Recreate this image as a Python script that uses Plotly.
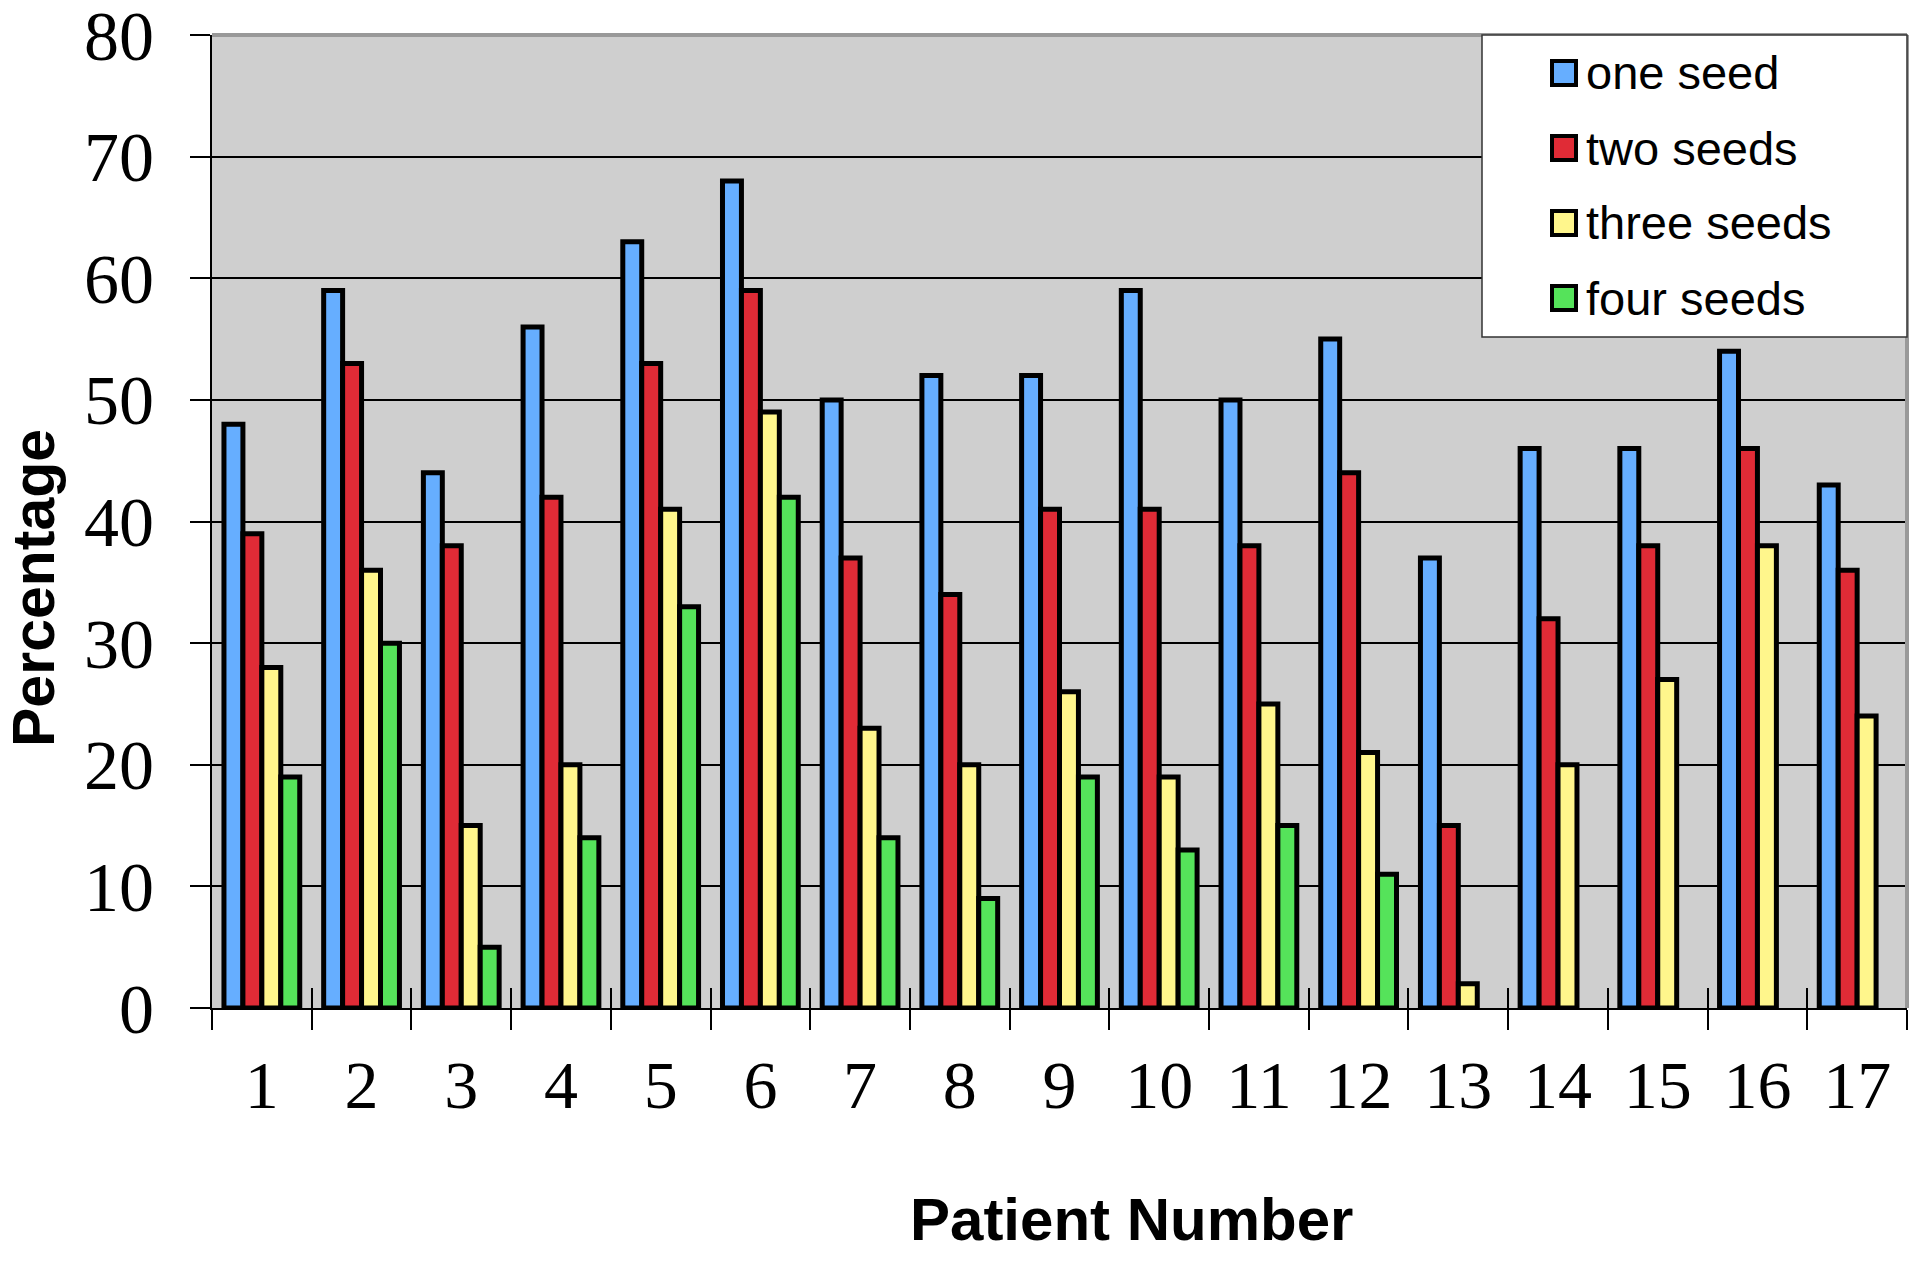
import plotly.graph_objects as go

# ---------------- data ----------------
patients = [str(i) for i in range(1, 18)]
series_names = ["one seed", "two seeds", "three seeds", "four seeds"]
one_seed = [48, 59, 44, 56, 63, 68, 50, 52, 52, 59, 50, 55, 37, 46, 46, 54, 43]
two_seeds = [39, 53, 38, 42, 53, 59, 37, 34, 41, 41, 38, 44, 15, 32, 38, 46, 36]
three_seeds = [28, 36, 15, 20, 41, 49, 23, 20, 26, 19, 25, 21, 2, 20, 27, 38, 24]
four_seeds = [19, 30, 5, 14, 33, 42, 14, 9, 19, 13, 15, 11, None, None, None, None, None]
y_ticks = [0, 10, 20, 30, 40, 50, 60, 70, 80]
x_title = "Patient Number"
y_title = "Percentage"

# ---------------- styles ----------------
colors = ["#66AEFF", "#E02B36", "#FFF68C", "#55E35A"]
W, H = 1920, 1261
OFF = 8  # default page body margin in the browser
# target plot area on the page: x 212..1907, y 35..1008
PL, PR, PT, PB = 212, 1907, 35, 1008
ML, MT = PL - OFF, PT - OFF
MR, MB = W - (PR - OFF), H - (PB - OFF)
PW, PH = PR - PL, PB - PT


def px_x(px):
    return (px - PL) / PW


def px_y(py):
    return (PB - py) / PH


fig = go.Figure()
for name, vals, col in zip(series_names, [one_seed, two_seeds, three_seeds, four_seeds], colors):
    fig.add_trace(go.Bar(
        x=patients, y=vals, name=name, showlegend=False,
        marker=dict(color=col, line=dict(color="black", width=5)),
    ))

# helper invisible trace so the overlay axis (inside crossing ticks) has categories
fig.add_trace(go.Scatter(x=patients, y=[None] * len(patients), xaxis="x2",
                         mode="markers", showlegend=False, hoverinfo="skip"))

serif = "Liberation Serif, Times New Roman, serif"
sans = "Liberation Sans, Arial, sans-serif"

xr = [-0.5, len(patients) - 0.5]

fig.update_layout(
    width=W, height=H,
    margin=dict(l=ML, r=MR, t=MT, b=MB, pad=0, autoexpand=False),
    paper_bgcolor="white",
    plot_bgcolor="#CFCFCF",
    bargap=0.24, bargroupgap=0,
    barmode="group",
    xaxis=dict(
        type="category", range=xr, autorange=False, automargin=False,
        showgrid=False, zeroline=False,
        showline=True, linecolor="black", linewidth=2,
        ticks="outside", ticklen=20, tickwidth=1.5, tickcolor="black",
        tickson="boundaries",
        tickfont=dict(family=serif, size=68, color="black"),
        ticklabelstandoff=16,
    ),
    xaxis2=dict(
        type="category", overlaying="x", range=xr, autorange=False, automargin=False,
        anchor="y", side="bottom",
        showgrid=False, zeroline=False, showline=False,
        ticks="inside", ticklen=20, tickwidth=1.5, tickcolor="black",
        tickson="boundaries", showticklabels=False,
    ),
    yaxis=dict(
        range=[0, 80], autorange=False, automargin=False,
        tickvals=y_ticks, ticktext=[str(v) for v in y_ticks],
        showgrid=True, gridcolor="black", gridwidth=1.5, zeroline=False,
        showline=True, linecolor="black", linewidth=2,
        ticks="outside", ticklen=20, tickwidth=1.5, tickcolor="black",
        tickfont=dict(family=serif, size=70, color="black"),
        ticklabelstandoff=22, ticklabeloverflow="allow",
    ),
)

shapes = [
    # gray top and right frame of the plot area
    dict(type="line", xref="paper", yref="paper", x0=0, x1=1, y0=1, y1=1,
         line=dict(color="#999999", width=4), layer="above"),
    dict(type="line", xref="paper", yref="paper", x0=1, x1=1, y0=0, y1=1,
         line=dict(color="#999999", width=4), layer="above"),
    # legend box
    dict(type="rect", xref="paper", yref="paper",
         x0=px_x(1482), x1=px_x(1907), y0=px_y(337), y1=px_y(35),
         fillcolor="white", line=dict(color="#333333", width=1.5), layer="above"),
]
annotations = []
row_y = [73, 148, 223, 298]
for name, col, ry in zip(series_names, colors, row_y):
    shapes.append(dict(type="rect", xref="paper", yref="paper",
                       x0=px_x(1552), x1=px_x(1576), y0=px_y(ry + 12), y1=px_y(ry - 12),
                       fillcolor=col, line=dict(color="black", width=4), layer="above"))
    annotations.append(dict(text=name, xref="paper", yref="paper",
                            x=px_x(1584), y=px_y(ry), xanchor="left", yanchor="middle",
                            showarrow=False, font=dict(family=sans, size=47, color="black")))

annotations.append(dict(text="<b>" + x_title + "</b>", xref="paper", yref="paper",
                        x=px_x(1131), y=px_y(1219), xanchor="center", yanchor="middle",
                        showarrow=False, font=dict(family=sans, size=60, color="black")))
annotations.append(dict(text="<b>" + y_title + "</b>", xref="paper", yref="paper",
                        x=px_x(34), y=px_y(588), xanchor="center", yanchor="middle",
                        textangle=-90, showarrow=False,
                        font=dict(family=sans, size=59, color="black")))

fig.update_layout(shapes=shapes, annotations=annotations)

fig.write_html("out.html")
